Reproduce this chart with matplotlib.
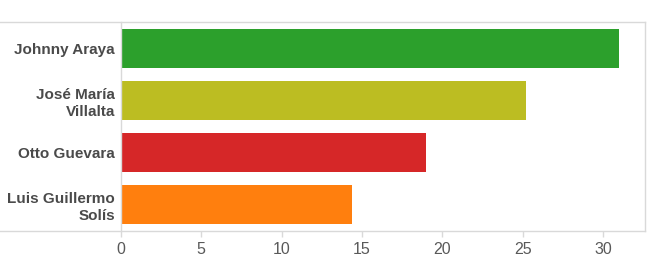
import matplotlib
matplotlib.use("Agg")
import matplotlib.pyplot as plt

candidates = ["Johnny Araya", "José María\nVillalta", "Otto Guevara", "Luis Guillermo\nSolís"]
votes = [31.0, 25.2, 19.0, 14.4]
colors = ["#2ca02c", "#bcbd22", "#d62728", "#ff7f0e"]
xticks = [0, 5, 10, 15, 20, 25, 30]

plt.rcParams['font.family'] = ['Liberation Sans', 'DejaVu Sans']
grey = "#d9d9d9"

fig = plt.figure(figsize=(6.53, 2.57), dpi=100)
ax = fig.add_axes([0.1848, 0.1023, 0.8029, 0.8121])

ypos = list(range(len(candidates)))[::-1]
ax.barh(ypos, votes, height=0.745, color=colors)

ax.set_ylim(-0.5, 3.5)
ax.set_xlim(0, 32.6)
ax.set_xticks(xticks)
ax.set_yticks(ypos)
ax.set_yticklabels(candidates, fontsize=11, fontweight='bold', color='#4a4a4a',
                   linespacing=1.3)
ax.tick_params(axis='y', length=0, pad=4)
ax.tick_params(axis='x', length=4, width=1, color=grey, labelsize=11.5,
               labelcolor='#595959', pad=4)

for s in ['top', 'bottom']:
    ax.spines[s].set_visible(False)
for s in ['left', 'right']:
    ax.spines[s].set_color(grey)
    ax.spines[s].set_linewidth(1)

# horizontal frame lines run out to the left edge of the figure
ax.axhline(3.5, xmin=-0.2302, xmax=1, color=grey, lw=1, clip_on=False)
ax.axhline(-0.5, xmin=-0.2302, xmax=1, color=grey, lw=1, clip_on=False)

fig.savefig("out.png", dpi=100)
